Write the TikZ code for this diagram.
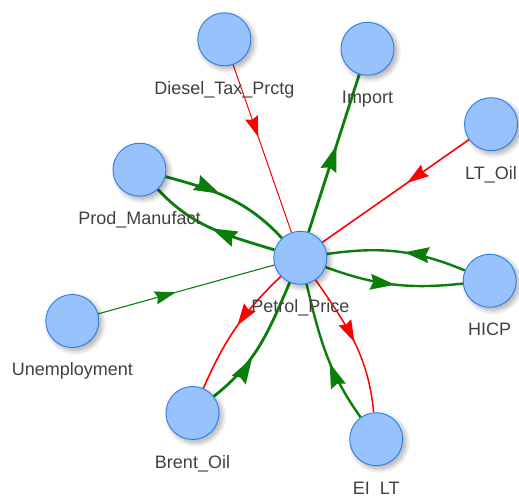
\documentclass[tikz,border=0pt]{standalone}
\usepackage{fontspec}
\setmainfont{Liberation Sans}
\usetikzlibrary{decorations.markings,shadows.blur}
\definecolor{nodefill}{HTML}{97C2FC}
\definecolor{nodeborder}{HTML}{2B7CE9}
\definecolor{labelgray}{HTML}{404040}
\definecolor{posgreen}{HTML}{0A7D0A}
\definecolor{negred}{HTML}{FF0000}
\pgfdeclarelayer{edges}
\pgfsetlayers{edges,main}
\tikzset{
  var/.style={circle, minimum size=53pt, inner sep=0pt, fill=nodefill,
    draw=nodeborder, line width=0.9pt,
    blur shadow={shadow xshift=3pt, shadow yshift=-3pt, shadow blur steps=10,
      shadow opacity=35, shadow blur radius=5pt}},
  varlabel/.style={anchor=base, text=labelgray, inner sep=0pt,
    font=\fontsize{18}{20}\selectfont},
  % colour, line width, shift of the arrow tip from the middle, arrow length
  flow/.style n args={4}{draw=#1, line width=#2, postaction={decorate},
    decoration={markings, mark=at position 0.5 with
      {\fill[#1] (#3,0pt) -- ++(-#4,0.32*#4) -- ++(0.12*#4,-0.32*#4)
         -- ++(-0.12*#4,-0.32*#4) -- cycle;}}},
}
\begin{document}
\begin{tikzpicture}[x=1pt, y=1pt]
\useasboundingbox (0,0) rectangle (519,495);
\clip (0,0) rectangle (519,495);

% variables
\node[var] (diesel) at (224.3,455.7) {};
\node[var] (import) at (367.5,446.2) {};
\node[var] (ltoil)  at (491,370.8) {};
\node[var] (prod)   at (139.5,325.3) {};
\node[var] (petrol) at (300.3,237.2) {};
\node[var] (hicp)   at (489.7,214.2) {};
\node[var] (unemp)  at (72.3,174) {};
\node[var] (brent)  at (192.5,82) {};
\node[var] (eilt)   at (376.2,55.8) {};

% names under the variables
\node[varlabel] (diesel-l) at ([yshift=-55pt]diesel.center) {Diesel\_Tax\_Prctg};
\node[varlabel] (import-l) at ([yshift=-55pt]import.center) {Import};
\node[varlabel] (ltoil-l)  at ([yshift=-55pt]ltoil.center)  {LT\_Oil};
\node[varlabel] (prod-l)   at ([yshift=-55pt]prod.center)   {Prod\_Manufact};
\node[varlabel] (petrol-l) at ([yshift=-55pt]petrol.center) {Petrol\_Price};
\node[varlabel] (hicp-l)   at ([yshift=-55pt]hicp.center)   {HICP};
\node[varlabel] (unemp-l)  at ([yshift=-55pt]unemp.center)  {Unemployment};
\node[varlabel] (brent-l)  at ([yshift=-55pt]brent.center)  {Brent\_Oil};
\node[varlabel] (eilt-l)   at ([yshift=-55pt]eilt.center)   {EI\_LT};

% influences
\begin{pgfonlayer}{edges}
\draw[flow={negred}{1pt}{-12pt}{21pt}] (diesel) -- (petrol);
\draw[flow={posgreen}{2.8pt}{8pt}{26pt}] (petrol) -- (import);
\draw[flow={negred}{1.6pt}{-14pt}{22pt}] (ltoil) -- (petrol);
\draw[flow={posgreen}{2.8pt}{-10pt}{26pt}] (prod) to[out=-15, in=133] (petrol);
\draw[flow={posgreen}{2.8pt}{0pt}{26pt}] (petrol) to[out=163, in=-47] (prod);
\draw[flow={posgreen}{2.4pt}{-7pt}{25pt}] (hicp) to[out=157.6, in=8.2] (petrol);
\draw[flow={posgreen}{2.4pt}{2pt}{25pt}] (petrol) to[out=-20.3, in=-174] (hicp);
\draw[flow={posgreen}{1.1pt}{-11pt}{21pt}] (unemp) -- (petrol);
\draw[flow={negred}{1.6pt}{-3pt}{22pt}] (petrol) to[out=-136.4, in=66.4] (brent);
\draw[flow={posgreen}{2.8pt}{-15pt}{26pt}] (brent) to[out=38, in=-113.3] (petrol);
\draw[flow={posgreen}{2.4pt}{-10pt}{25pt}] (eilt) to[out=125.7, in=-76.8] (petrol);
\draw[flow={negred}{1.5pt}{0pt}{22pt}] (petrol) to[out=-55.5, in=95.6] (eilt);
\end{pgfonlayer}
\end{tikzpicture}
\end{document}
